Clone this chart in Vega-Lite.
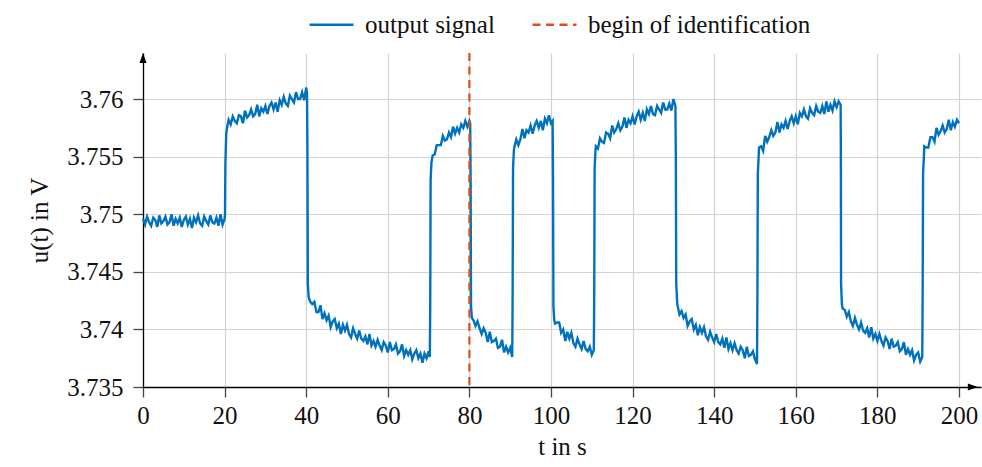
{
  "$schema": "https://vega.github.io/schema/vega-lite/v6.json",
  "autosize": "none",
  "width": 838,
  "height": 334,
  "padding": {"left": 143, "top": 53, "right": 1, "bottom": 80},
  "config": {
    "view": {"stroke": null},
    "font": "Liberation Serif",
    "axis": {
      "labelFont": "Liberation Serif", "labelFontSize": 25, "labelColor": "#111",
      "titleFont": "Liberation Serif", "titleFontSize": 25, "titleFontWeight": "normal", "titleColor": "#111",
      "gridColor": "#d3d3d3", "gridWidth": 1.2,
      "domainColor": "#000", "domainWidth": 1.3,
      "tickColor": "#444", "tickWidth": 1.3, "tickSize": 10
    },
    "legend": {
      "labelFont": "Liberation Serif", "labelFontSize": 25, "labelColor": "#111", "labelLimit": 0,
      "symbolType": "stroke", "symbolSize": 1936, "symbolStrokeWidth": 2.5,
      "labelOffset": 10, "columnPadding": 32, "padding": 0
    }
  },
  "datasets": {
    "signal": [
      {"t":0,"u":3.7496},{"t":0.5,"u":3.7491},{"t":1,"u":3.7498},{"t":1.5,"u":3.7493},{"t":2,"u":3.7490},{"t":2.5,"u":3.7497},{"t":3,"u":3.7495},{"t":3.5,"u":3.7489},{"t":4,"u":3.7499},{"t":4.5,"u":3.7492},
      {"t":5,"u":3.7494},{"t":5.5,"u":3.7498},{"t":6,"u":3.7491},{"t":6.5,"u":3.7493},{"t":7,"u":3.7500},{"t":7.5,"u":3.7490},{"t":8,"u":3.7496},{"t":8.5,"u":3.7492},{"t":9,"u":3.7497},{"t":9.5,"u":3.7489},
      {"t":10,"u":3.7495},{"t":10.5,"u":3.7498},{"t":11,"u":3.7491},{"t":11.5,"u":3.7496},{"t":12,"u":3.7488},{"t":12.5,"u":3.7497},{"t":13,"u":3.7493},{"t":13.5,"u":3.7499},{"t":14,"u":3.7492},{"t":14.5,"u":3.7490},
      {"t":15,"u":3.7498},{"t":15.5,"u":3.7494},{"t":16,"u":3.7491},{"t":16.5,"u":3.7499},{"t":17,"u":3.7493},{"t":17.5,"u":3.7492},{"t":18,"u":3.7497},{"t":18.5,"u":3.7490},{"t":19,"u":3.7500},{"t":19.5,"u":3.7491},
      {"t":20,"u":3.7496},{"t":20.1,"u":3.7500},{"t":20.2,"u":3.7545},{"t":20.4,"u":3.7570},{"t":20.7,"u":3.7577},
      {"t":21,"u":3.7582},{"t":21.5,"u":3.7578},{"t":22,"u":3.7585},{"t":22.5,"u":3.7581},{"t":23,"u":3.7579},{"t":23.5,"u":3.7586},{"t":24,"u":3.7585},{"t":24.5,"u":3.7579},{"t":25,"u":3.7590},{"t":25.5,"u":3.7584},
      {"t":26,"u":3.7586},{"t":26.5,"u":3.7591},{"t":27,"u":3.7585},{"t":27.5,"u":3.7587},{"t":28,"u":3.7595},{"t":28.5,"u":3.7585},{"t":29,"u":3.7592},{"t":29.5,"u":3.7589},{"t":30,"u":3.7594},{"t":30.5,"u":3.7587},
      {"t":31,"u":3.7594},{"t":31.5,"u":3.7597},{"t":32,"u":3.7591},{"t":32.5,"u":3.7597},{"t":33,"u":3.7589},{"t":33.5,"u":3.7599},{"t":34,"u":3.7595},{"t":34.5,"u":3.7602},{"t":35,"u":3.7596},{"t":35.5,"u":3.7594},
      {"t":36,"u":3.7603},{"t":36.5,"u":3.7600},{"t":37,"u":3.7597},{"t":37.5,"u":3.7606},{"t":38,"u":3.7600},{"t":38.5,"u":3.7600},{"t":39,"u":3.7606},{"t":39.5,"u":3.7599},{"t":40,"u":3.7610},{"t":40.2,"u":3.7605},
      {"t":40.3,"u":3.7560},{"t":40.4,"u":3.7440},{"t":40.6,"u":3.7428},{"t":41,"u":3.7424},
      {"t":41.5,"u":3.7422},{"t":42,"u":3.7424},{"t":42.5,"u":3.7415},{"t":43,"u":3.7415},{"t":43.5,"u":3.7421},{"t":44,"u":3.7409},{"t":44.5,"u":3.7414},{"t":45,"u":3.7408},{"t":45.5,"u":3.7412},{"t":46,"u":3.7402},
      {"t":46.5,"u":3.7407},{"t":47,"u":3.7409},{"t":47.5,"u":3.7401},{"t":48,"u":3.7405},{"t":48.5,"u":3.7396},{"t":49,"u":3.7404},{"t":49.5,"u":3.7399},{"t":50,"u":3.7404},{"t":50.5,"u":3.7396},{"t":51,"u":3.7393},
      {"t":51.5,"u":3.7401},{"t":52,"u":3.7396},{"t":52.5,"u":3.7392},{"t":53,"u":3.7399},{"t":53.5,"u":3.7392},{"t":54,"u":3.7390},{"t":54.5,"u":3.7394},{"t":55,"u":3.7387},{"t":55.5,"u":3.7396},{"t":56,"u":3.7386},
      {"t":56.5,"u":3.7390},{"t":57,"u":3.7385},{"t":57.5,"u":3.7391},{"t":58,"u":3.7386},{"t":58.5,"u":3.7382},{"t":59,"u":3.7389},{"t":59.5,"u":3.7386},{"t":60,"u":3.7380},{"t":60.5,"u":3.7389},{"t":61,"u":3.7382},
      {"t":61.5,"u":3.7383},{"t":62,"u":3.7387},{"t":62.5,"u":3.7379},{"t":63,"u":3.7381},{"t":63.5,"u":3.7387},{"t":64,"u":3.7377},{"t":64.5,"u":3.7382},{"t":65,"u":3.7378},{"t":65.5,"u":3.7382},{"t":66,"u":3.7374},
      {"t":66.5,"u":3.7379},{"t":67,"u":3.7382},{"t":67.5,"u":3.7375},{"t":68,"u":3.7379},{"t":68.5,"u":3.7371},{"t":69,"u":3.7379},{"t":69.5,"u":3.7375},{"t":70,"u":3.7381},{"t":70.3,"u":3.7376},
      {"t":70.4,"u":3.7420},{"t":70.5,"u":3.7530},{"t":70.7,"u":3.7545},
      {"t":71,"u":3.7551},{"t":71.5,"u":3.7552},{"t":72,"u":3.7560},{"t":72.5,"u":3.7560},{"t":73,"u":3.7560},{"t":73.5,"u":3.7568},{"t":74,"u":3.7564},{"t":74.5,"u":3.7565},{"t":75,"u":3.7571},{"t":75.5,"u":3.7567},
      {"t":76,"u":3.7576},{"t":76.5,"u":3.7570},{"t":77,"u":3.7575},{"t":77.5,"u":3.7571},{"t":78,"u":3.7578},{"t":78.5,"u":3.7575},{"t":79,"u":3.7581},{"t":79.5,"u":3.7576},{"t":80,"u":3.7581},{"t":80.2,"u":3.7579},
      {"t":80.3,"u":3.7530},{"t":80.4,"u":3.7420},{"t":80.6,"u":3.7410},{"t":81,"u":3.7408},
      {"t":81.5,"u":3.7403},{"t":82,"u":3.7407},{"t":82.5,"u":3.7401},{"t":83,"u":3.7396},{"t":83.5,"u":3.7401},{"t":84,"u":3.7397},{"t":84.5,"u":3.7389},{"t":85,"u":3.7398},{"t":85.5,"u":3.7389},{"t":86,"u":3.7390},
      {"t":86.5,"u":3.7392},{"t":87,"u":3.7384},{"t":87.5,"u":3.7385},{"t":88,"u":3.7391},{"t":88.5,"u":3.7380},{"t":89,"u":3.7385},{"t":89.5,"u":3.7380},{"t":90,"u":3.7384},{"t":90.5,"u":3.7376},
      {"t":90.6,"u":3.7430},{"t":90.7,"u":3.7540},{"t":90.9,"u":3.7555},
      {"t":91,"u":3.7558},{"t":91.5,"u":3.7565},{"t":92,"u":3.7560},{"t":92.5,"u":3.7565},{"t":93,"u":3.7574},{"t":93.5,"u":3.7566},{"t":94,"u":3.7573},{"t":94.5,"u":3.7571},{"t":95,"u":3.7577},{"t":95.5,"u":3.7570},
      {"t":96,"u":3.7577},{"t":96.5,"u":3.7581},{"t":97,"u":3.7575},{"t":97.5,"u":3.7581},{"t":98,"u":3.7573},{"t":98.5,"u":3.7583},{"t":99,"u":3.7579},{"t":99.5,"u":3.7586},{"t":100,"u":3.7579},{"t":100.4,"u":3.7581},
      {"t":100.5,"u":3.7530},{"t":100.6,"u":3.7420},{"t":100.8,"u":3.7408},{"t":101,"u":3.7405},
      {"t":101.5,"u":3.7406},{"t":102,"u":3.7406},{"t":102.5,"u":3.7397},{"t":103,"u":3.7400},{"t":103.5,"u":3.7390},{"t":104,"u":3.7398},{"t":104.5,"u":3.7392},{"t":105,"u":3.7397},{"t":105.5,"u":3.7388},{"t":106,"u":3.7385},
      {"t":106.5,"u":3.7392},{"t":107,"u":3.7387},{"t":107.5,"u":3.7383},{"t":108,"u":3.7390},{"t":108.5,"u":3.7383},{"t":109,"u":3.7381},{"t":109.5,"u":3.7385},{"t":110,"u":3.7378},{"t":110.5,"u":3.7382},
      {"t":110.6,"u":3.7430},{"t":110.7,"u":3.7540},{"t":110.9,"u":3.7555},
      {"t":111,"u":3.7559},{"t":111.5,"u":3.7557},{"t":112,"u":3.7566},{"t":112.5,"u":3.7563},{"t":113,"u":3.7562},{"t":113.5,"u":3.7571},{"t":114,"u":3.7570},{"t":114.5,"u":3.7566},{"t":115,"u":3.7577},{"t":115.5,"u":3.7571},
      {"t":116,"u":3.7574},{"t":116.5,"u":3.7579},{"t":117,"u":3.7573},{"t":117.5,"u":3.7576},{"t":118,"u":3.7584},{"t":118.5,"u":3.7575},{"t":119,"u":3.7582},{"t":119.5,"u":3.7579},{"t":120,"u":3.7585},{"t":120.5,"u":3.7578},
      {"t":121,"u":3.7585},{"t":121.5,"u":3.7589},{"t":122,"u":3.7582},{"t":122.5,"u":3.7588},{"t":123,"u":3.7581},{"t":123.5,"u":3.7591},{"t":124,"u":3.7587},{"t":124.5,"u":3.7594},{"t":125,"u":3.7587},{"t":125.5,"u":3.7586},
      {"t":126,"u":3.7594},{"t":126.5,"u":3.7591},{"t":127,"u":3.7588},{"t":127.5,"u":3.7597},{"t":128,"u":3.7591},{"t":128.5,"u":3.7591},{"t":129,"u":3.7596},{"t":129.5,"u":3.7590},{"t":130,"u":3.7600},{"t":130.5,"u":3.7594},
      {"t":130.6,"u":3.7550},{"t":130.7,"u":3.7440},{"t":130.9,"u":3.7425},{"t":131,"u":3.7421},
      {"t":131.5,"u":3.7413},{"t":132,"u":3.7416},{"t":132.5,"u":3.7410},{"t":133,"u":3.7413},{"t":133.5,"u":3.7403},{"t":134,"u":3.7407},{"t":134.5,"u":3.7409},{"t":135,"u":3.7400},{"t":135.5,"u":3.7404},{"t":136,"u":3.7395},
      {"t":136.5,"u":3.7402},{"t":137,"u":3.7397},{"t":137.5,"u":3.7402},{"t":138,"u":3.7394},{"t":138.5,"u":3.7391},{"t":139,"u":3.7398},{"t":139.5,"u":3.7393},{"t":140,"u":3.7389},{"t":140.5,"u":3.7396},{"t":141,"u":3.7389},
      {"t":141.5,"u":3.7387},{"t":142,"u":3.7392},{"t":142.5,"u":3.7384},{"t":143,"u":3.7393},{"t":143.5,"u":3.7383},{"t":144,"u":3.7388},{"t":144.5,"u":3.7382},{"t":145,"u":3.7388},{"t":145.5,"u":3.7382},{"t":146,"u":3.7379},
      {"t":146.5,"u":3.7385},{"t":147,"u":3.7382},{"t":147.5,"u":3.7375},{"t":148,"u":3.7385},{"t":148.5,"u":3.7377},{"t":149,"u":3.7378},{"t":149.5,"u":3.7381},{"t":150,"u":3.7374},{"t":150.5,"u":3.7370},
      {"t":150.6,"u":3.7430},{"t":150.7,"u":3.7535},{"t":150.9,"u":3.7550},
      {"t":151,"u":3.7558},{"t":151.5,"u":3.7559},{"t":152,"u":3.7555},{"t":152.5,"u":3.7568},{"t":153,"u":3.7563},{"t":153.5,"u":3.7567},{"t":154,"u":3.7573},{"t":154.5,"u":3.7568},{"t":155,"u":3.7571},{"t":155.5,"u":3.7580},
      {"t":156,"u":3.7571},{"t":156.5,"u":3.7578},{"t":157,"u":3.7575},{"t":157.5,"u":3.7581},{"t":158,"u":3.7574},{"t":158.5,"u":3.7581},{"t":159,"u":3.7585},{"t":159.5,"u":3.7579},{"t":160,"u":3.7585},{"t":160.5,"u":3.7578},
      {"t":161,"u":3.7588},{"t":161.5,"u":3.7585},{"t":162,"u":3.7591},{"t":162.5,"u":3.7585},{"t":163,"u":3.7583},{"t":163.5,"u":3.7592},{"t":164,"u":3.7588},{"t":164.5,"u":3.7586},{"t":165,"u":3.7594},{"t":165.5,"u":3.7589},
      {"t":166,"u":3.7588},{"t":166.5,"u":3.7594},{"t":167,"u":3.7587},{"t":167.5,"u":3.7598},{"t":168,"u":3.7589},{"t":168.5,"u":3.7595},{"t":169,"u":3.7590},{"t":169.5,"u":3.7598},{"t":170,"u":3.7593},{"t":170.5,"u":3.7598},
      {"t":171,"u":3.7595},{"t":171.05,"u":3.7550},{"t":171.1,"u":3.7440},{"t":171.3,"u":3.7422},{"t":171.5,"u":3.7418},
      {"t":172,"u":3.7417},{"t":172.5,"u":3.7411},{"t":173,"u":3.7415},{"t":173.5,"u":3.7407},{"t":174,"u":3.7403},{"t":174.5,"u":3.7410},{"t":175,"u":3.7404},{"t":175.5,"u":3.7400},{"t":176,"u":3.7406},{"t":176.5,"u":3.7399},
      {"t":177,"u":3.7397},{"t":177.5,"u":3.7401},{"t":178,"u":3.7393},{"t":178.5,"u":3.7402},{"t":179,"u":3.7392},{"t":179.5,"u":3.7396},{"t":180,"u":3.7390},{"t":180.5,"u":3.7396},{"t":181,"u":3.7390},{"t":181.5,"u":3.7386},
      {"t":182,"u":3.7393},{"t":182.5,"u":3.7390},{"t":183,"u":3.7383},{"t":183.5,"u":3.7392},{"t":184,"u":3.7385},{"t":184.5,"u":3.7386},{"t":185,"u":3.7389},{"t":185.5,"u":3.7381},{"t":186,"u":3.7383},{"t":186.5,"u":3.7389},
      {"t":187,"u":3.7378},{"t":187.5,"u":3.7383},{"t":188,"u":3.7378},{"t":188.5,"u":3.7382},{"t":189,"u":3.7373},{"t":189.5,"u":3.7378},{"t":190,"u":3.7380},{"t":190.5,"u":3.7372},{"t":191,"u":3.7376},
      {"t":191.1,"u":3.7430},{"t":191.2,"u":3.7535},{"t":191.4,"u":3.7550},
      {"t":191.5,"u":3.7559},{"t":192,"u":3.7558},{"t":192.5,"u":3.7558},{"t":193,"u":3.7567},{"t":193.5,"u":3.7567},{"t":194,"u":3.7563},{"t":194.5,"u":3.7575},{"t":195,"u":3.7569},{"t":195.5,"u":3.7572},{"t":196,"u":3.7577},
      {"t":196.5,"u":3.7571},{"t":197,"u":3.7574},{"t":197.5,"u":3.7582},{"t":198,"u":3.7573},{"t":198.5,"u":3.7580},{"t":199,"u":3.7576},{"t":199.5,"u":3.7582},{"t":200,"u":3.7579}
    ],
    "marker": [{"t": 80}]
  },
  "encoding": {
    "x": {
      "type": "quantitative",
      "scale": {"domain": [0, 205.4], "nice": false, "zero": false},
      "axis": {"values": [0,20,40,60,80,100,120,140,160,180,200], "format": "d", "title": "t in s", "titlePadding": 6, "labelPadding": 6, "labelFlush": false}
    },
    "y": {
      "type": "quantitative",
      "scale": {"domain": [3.735, 3.764], "nice": false, "zero": false},
      "axis": {"values": [3.735,3.74,3.745,3.75,3.755,3.76], "format": "~g", "title": "u(t) in V", "titlePadding": 14, "labelPadding": 10, "labelFlush": false}
    }
  },
  "layer": [
    {
      "data": {"name": "signal"},
      "mark": {"type": "line", "strokeWidth": 2.4, "interpolate": "linear"},
      "encoding": {
        "x": {"field": "t", "type": "quantitative"},
        "y": {"field": "u", "type": "quantitative"},
        "color": {"datum": "output signal", "type": "nominal",
          "scale": {"domain": ["output signal", "begin of identification"], "range": ["#0072BD", "#D95319"]},
          "legend": {"title": null, "orient": "none", "direction": "horizontal", "legendX": 165, "legendY": -52}},
        "strokeDash": {"datum": "output signal", "type": "nominal",
          "scale": {"domain": ["output signal", "begin of identification"], "range": [[1, 0], [8, 5.5]]},
          "legend": {"title": null, "orient": "none", "direction": "horizontal", "legendX": 165, "legendY": -52}}
      }
    },
    {
      "data": {"name": "marker"},
      "mark": {"type": "rule", "strokeWidth": 2.2},
      "encoding": {
        "x": {"field": "t", "type": "quantitative"},
        "color": {"datum": "begin of identification", "type": "nominal"},
        "strokeDash": {"datum": "begin of identification", "type": "nominal"}
      }
    },
    {
      "data": {"values": [{}]},
      "mark": {"type": "point", "shape": "M-1,-0.7L1,0L-1,0.7Z", "filled": true, "color": "#000", "opacity": 1, "size": 100},
      "encoding": {"x": {"datum": 203.4}, "y": {"datum": 3.735}}
    },
    {
      "data": {"values": [{}]},
      "mark": {"type": "point", "shape": "M-0.7,1L0,-1L0.7,1Z", "filled": true, "color": "#000", "opacity": 1, "size": 100},
      "encoding": {"x": {"datum": 0}, "y": {"datum": 3.76357}}
    }
  ]
}
